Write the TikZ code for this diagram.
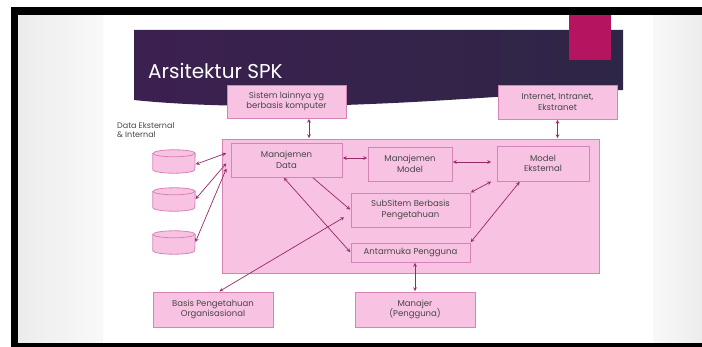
\documentclass[tikz,border=0pt]{standalone}
\usepackage{fontspec}
\setmainfont{Poppins}

\definecolor{boxfill}{RGB}{248,194,226}
\definecolor{boxline}{RGB}{214,132,184}
\definecolor{arrowcol}{RGB}{150,40,105}
\definecolor{txtcol}{RGB}{70,70,70}
\definecolor{bandleft}{RGB}{60,32,80}
\definecolor{bandmid}{RGB}{108,40,94}
\definecolor{bandright}{RGB}{46,38,70}
\definecolor{accent}{RGB}{180,20,96}

\tikzset{
  box/.style={draw=boxline, fill=boxfill, line width=0.8pt, align=center, text=txtcol,
    font=\fontsize{8.5}{10.5}\selectfont, inner sep=0pt},
  drum/.style={minimum width=42pt, minimum height=23pt, inner sep=0pt},
  drumline/.style={draw=boxline, fill=boxfill, line width=0.8pt},
  link/.style={draw=arrowcol, line width=0.7pt, >=stealth, shorten >=0.5pt, shorten <=0.5pt},
}

\begin{document}
\begin{tikzpicture}[x=1pt,y=-1pt]
    \useasboundingbox (0,0) rectangle (702,347);
    % screen and frame
    \fill[white] (0,0) rectangle (702,347);
    \shade[left color=gray!15, right color=gray!5] (18,15) rectangle (103,343);
    \shade[left color=gray!5, right color=gray!15] (653,15) rectangle (702,343);

    % title band
    \shade[left color=bandleft, middle color=bandmid, right color=bandright]
        (134,30) -- (623,30) -- (623,90) .. controls (540,93) and (450,101) .. (370,104)
        .. controls (280,108) and (190,106) .. (134,100) -- cycle;
    \fill[accent] (569,15) rectangle (611,60);
    \fill[black] (11,7) rectangle (702,15);
    \fill[black] (11,7) rectangle (18,347);
    \fill[black] (11,343) rectangle (702,347);
    \node[anchor=base west, inner sep=0pt, text=white, font=\fontsize{20}{24}\selectfont] (title) at (148,79) {Arsitektur SPK};

    % boxes
    \node[box, minimum width=377pt, minimum height=134pt] (dss) at (410.5,206) {};
    \node[box, minimum width=119pt, minimum height=33pt] (sistem) at (286.5,101.5) {Sistem lainnya yg\\berbasis komputer};
    \node[box, minimum width=119pt, minimum height=34pt] (internet) at (557.5,102) {Internet, Intranet,\\Ekstranet};
    \node[box, minimum width=111pt, minimum height=34pt] (mdata) at (286.5,160) {Manajemen\\Data};
    \node[box, minimum width=84pt, minimum height=34pt] (mmodel) at (410,164) {Manajemen\\Model};
    \node[box, minimum width=92pt, minimum height=35pt] (mekst) at (543,163.5) {Model\\Eksternal};
    \node[box, minimum width=119pt, minimum height=34pt] (subsis) at (410.5,210) {SubSitem Berbasis\\Pengetahuan};
    \node[box, minimum width=119pt, minimum height=19pt] (antar) at (410.5,252.5) {Antarmuka Pengguna};
    \node[box, minimum width=120pt, minimum height=35pt] (basis) at (213,309.5) {Basis Pengetahuan\\Organisasional};
    \node[box, minimum width=120pt, minimum height=35pt] (manajer) at (415,309.5) {Manajer\\(Pengguna)};

    % data stores
    \node[anchor=north west, inner sep=0pt, align=left, text=txtcol, font=\fontsize{8}{9.5}\selectfont] (datalbl) at (117,122) {Data Eksternal\\\& Internal};
    \node[drum] (db1) at (174,161.5) {};
    \node[drum] (db2) at (174,199.5) {};
    \node[drum] (db3) at (174,242.5) {};
    \foreach \n in {db1,db2,db3} {
        \filldraw[drumline] ([yshift=-3.5pt]\n.north west) -- ([yshift=3.5pt]\n.south west)
            arc[start angle=180, end angle=360, x radius=21pt, y radius=3.5pt]
            -- ([yshift=-3.5pt]\n.north east)
            arc[start angle=0, end angle=180, x radius=21pt, y radius=3.5pt] -- cycle;
        \draw[drumline, fill=none] ([yshift=-3.5pt]\n.north west)
            arc[start angle=180, end angle=360, x radius=21pt, y radius=3.5pt];
    }

    % connectors
    \draw[link, <->] ([xshift=22.5pt]sistem.south) -- ([xshift=22.5pt]sistem.south |- dss.north);
    \draw[link, <->] (internet.south) -- (internet.south |- dss.north);
    \draw[link, <->] ([yshift=-3pt]db1.east) -- ([xshift=-4pt,yshift=7pt]mdata.west);
    \draw[link, <->] (db2.east) -- ([xshift=-4pt,yshift=-3pt]mdata.west);
    \draw[link, <->] (db3.east) -- ([xshift=-4pt,yshift=-8pt]mdata.west);
    \draw[link, <->] ([yshift=2pt]mdata.east) -- ([yshift=2pt]mdata.east -| mmodel.west);
    \draw[link, <->] ([yshift=2pt]mmodel.east) -- ([xshift=-5pt,yshift=2pt]mmodel.east -| mekst.west);
    \draw[link, <->] (subsis.north east) -- ([xshift=-5pt]mekst.south west);
    \draw[link, <->] (antar.north east) -- ([xshift=-23pt]mekst.south);
    \draw[link, ->] ([xshift=26pt]mdata.south) -- (subsis.west);
    \draw[link, <->] ([xshift=-3pt]mdata.south) -- (antar.west);
    \draw[link, <->] ([xshift=6pt]basis.north) -- ([xshift=-6pt,yshift=-7pt]subsis.west);
    \draw[link, <->] (manajer.north) -- (manajer.north |- antar.south);
\end{tikzpicture}
\end{document}
